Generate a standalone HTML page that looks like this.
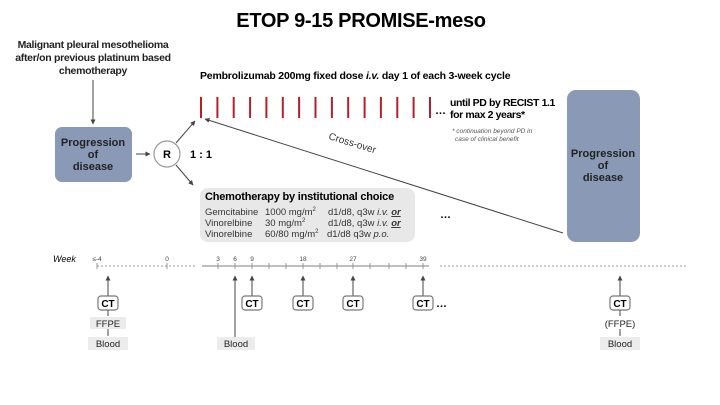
<!DOCTYPE html>
<html><head><style>
body{margin:0;background:#fff;}
svg{display:block;font-family:"Liberation Sans",Arial,sans-serif;}
</style></head><body>
<svg width="720" height="405" viewBox="0 0 720 405" xmlns="http://www.w3.org/2000/svg">
<defs>
<marker id="a" viewBox="0 0 10 10" refX="9" refY="5" markerWidth="5" markerHeight="5" orient="auto"><path d="M0,0 L10,5 L0,10 z" fill="#444"/></marker>
</defs>
<text x="361" y="27" text-anchor="middle" font-size="20" font-weight="bold" letter-spacing="-0.3">ETOP 9-15 PROMISE-meso</text>
<g font-size="10.5" font-weight="bold" text-anchor="middle" fill="#222" letter-spacing="-0.3">
<text x="93" y="48">Malignant pleural mesothelioma</text>
<text x="93" y="61">after/on previous platinum based</text>
<text x="93" y="74">chemotherapy</text>
</g>
<line x1="93" y1="80" x2="93" y2="124" stroke="#444" stroke-width="1" marker-end="url(#a)"/>
<rect x="55" y="127" width="77" height="55" rx="7" fill="#8a99b6"/>
<g font-size="11" font-weight="bold" text-anchor="middle" fill="#222">
<text x="93" y="146">Progression</text><text x="93" y="158">of</text><text x="93" y="170">disease</text>
</g>
<line x1="136" y1="154" x2="150" y2="154" stroke="#444" marker-end="url(#a)"/>
<circle cx="167" cy="154" r="13" fill="#fff" stroke="#999" stroke-width="1.2"/>
<text x="167" y="158" text-anchor="middle" font-size="11" font-weight="bold">R</text>
<text x="190" y="158" font-size="11" font-weight="bold">1 : 1</text>
<line x1="176" y1="143" x2="195" y2="121" stroke="#444" marker-end="url(#a)"/>
<line x1="176" y1="165" x2="193" y2="185" stroke="#444" marker-end="url(#a)"/>
<text x="200" y="79" font-size="10.5" font-weight="bold" letter-spacing="-0.2">Pembrolizumab 200mg fixed dose <tspan font-style="italic">i.v.</tspan> day 1 of each 3-week cycle</text>
<g stroke="#b3202c" stroke-width="2">
<line x1="201" y1="97" x2="201" y2="118"/><line x1="217.4" y1="97" x2="217.4" y2="118"/><line x1="233.7" y1="97" x2="233.7" y2="118"/><line x1="250.1" y1="97" x2="250.1" y2="118"/><line x1="266.4" y1="97" x2="266.4" y2="118"/><line x1="282.8" y1="97" x2="282.8" y2="118"/><line x1="299.1" y1="97" x2="299.1" y2="118"/><line x1="315.5" y1="97" x2="315.5" y2="118"/><line x1="331.9" y1="97" x2="331.9" y2="118"/><line x1="348.2" y1="97" x2="348.2" y2="118"/><line x1="364.6" y1="97" x2="364.6" y2="118"/><line x1="380.9" y1="97" x2="380.9" y2="118"/><line x1="397.3" y1="97" x2="397.3" y2="118"/><line x1="413.6" y1="97" x2="413.6" y2="118"/><line x1="430" y1="97" x2="430" y2="118"/>
</g>
<text x="435" y="114" font-size="11" font-weight="bold">…</text>
<text x="450" y="106" font-size="10.5" font-weight="bold" letter-spacing="-0.4">until PD by RECIST 1.1</text>
<text x="450" y="118" font-size="10.5" font-weight="bold" letter-spacing="-0.4">for max 2 years*</text>
<text x="452" y="133" font-size="6.5" font-style="italic" fill="#555">* continuation beyond PD in</text>
<text x="455" y="141" font-size="6.5" font-style="italic" fill="#555">case of clinical benefit</text>
<rect x="567" y="90" width="73" height="152" rx="9" fill="#8a99b6"/>
<g font-size="11" font-weight="bold" text-anchor="middle" fill="#222">
<text x="603" y="157">Progression</text><text x="603" y="169">of</text><text x="603" y="181">disease</text>
</g>
<line x1="563" y1="233" x2="205" y2="119" stroke="#444" marker-end="url(#a)"/>
<text x="328" y="139" font-size="10" transform="rotate(17 328 139)" fill="#333">Cross-over</text>
<rect x="200" y="188" width="215" height="54" rx="8" fill="#e8e8e8"/>
<text x="205" y="200" font-size="11" font-weight="bold" letter-spacing="-0.2">Chemotherapy by institutional choice</text>
<g font-size="9.5" fill="#333">
<text x="205" y="215">Gemcitabine</text><text x="265" y="215">1000 mg/m<tspan font-size="6" dy="-4">2</tspan></text><text x="328" y="215">d1/d8, q3w <tspan font-style="italic">i.v.</tspan> <tspan font-weight="bold" font-style="italic" text-decoration="underline">or</tspan></text>
<text x="205" y="226">Vinorelbine</text><text x="265" y="226">30 mg/m<tspan font-size="6" dy="-4">2</tspan></text><text x="328" y="226">d1/d8, q3w <tspan font-style="italic">i.v.</tspan> <tspan font-weight="bold" font-style="italic" text-decoration="underline">or</tspan></text>
<text x="205" y="237">Vinorelbine</text><text x="265" y="237">60/80 mg/m<tspan font-size="6" dy="-4">2</tspan></text><text x="327" y="237">d1/d8 q3w <tspan font-style="italic">p.o.</tspan></text>
</g>
<text x="440" y="218" font-size="11" font-weight="bold">…</text>
<text x="53" y="262" font-size="9" font-style="italic">Week</text>
<g font-size="6.5" fill="#444" text-anchor="middle">
<text x="97" y="261">≤-4</text><text x="167" y="261">0</text><text x="218" y="261">3</text><text x="235" y="261">6</text><text x="252" y="261">9</text><text x="303" y="261">18</text><text x="353" y="261">27</text><text x="423" y="261">39</text>
</g>
<line x1="97" y1="266" x2="195" y2="266" stroke="#999" stroke-dasharray="2,2"/>
<line x1="202" y1="266" x2="429" y2="266" stroke="#999" stroke-width="1.2"/>
<line x1="440" y1="266" x2="686" y2="266" stroke="#999" stroke-dasharray="2,2"/>
<g stroke="#999">
<line x1="97" y1="263" x2="97" y2="269"/><line x1="167" y1="263" x2="167" y2="269"/>
<line x1="218" y1="263" x2="218" y2="269"/><line x1="235" y1="263" x2="235" y2="269"/><line x1="252" y1="263" x2="252" y2="269"/><line x1="269" y1="263" x2="269" y2="269"/><line x1="286" y1="263" x2="286" y2="269"/><line x1="303" y1="263" x2="303" y2="269"/><line x1="320" y1="263" x2="320" y2="269"/><line x1="337" y1="263" x2="337" y2="269"/><line x1="353" y1="263" x2="353" y2="269"/><line x1="370" y1="263" x2="370" y2="269"/><line x1="389" y1="263" x2="389" y2="269"/><line x1="406" y1="263" x2="406" y2="269"/><line x1="423" y1="263" x2="423" y2="269"/>
</g>
<g stroke="#444" marker-end="url(#a)">
<line x1="108" y1="296" x2="108" y2="276"/><line x1="252" y1="296" x2="252" y2="276"/><line x1="303" y1="296" x2="303" y2="276"/><line x1="353" y1="296" x2="353" y2="276"/><line x1="423" y1="296" x2="423" y2="276"/><line x1="620" y1="296" x2="620" y2="276"/>
<line x1="235" y1="337" x2="235" y2="276"/>
</g>
<g stroke="#444"><line x1="108" y1="310" x2="108" y2="316"/><line x1="108" y1="329" x2="108" y2="336"/><line x1="620" y1="310" x2="620" y2="316"/><line x1="620" y1="329" x2="620" y2="336"/></g>
<g fill="#fff" stroke="#777" stroke-width="1.2">
<rect x="98" y="296" width="20" height="14" rx="3"/><rect x="242" y="296" width="20" height="14" rx="3"/><rect x="293" y="296" width="20" height="14" rx="3"/><rect x="343" y="296" width="20" height="14" rx="3"/><rect x="413" y="296" width="20" height="14" rx="3"/><rect x="610" y="296" width="20" height="14" rx="3"/>
</g>
<g font-size="10" font-weight="bold" text-anchor="middle">
<text x="108" y="307">CT</text><text x="252" y="307">CT</text><text x="303" y="307">CT</text><text x="353" y="307">CT</text><text x="423" y="307">CT</text><text x="620" y="307">CT</text>
</g>
<text x="436" y="307" font-size="11" font-weight="bold">…</text>
<g fill="#ececec">
<rect x="90" y="317" width="36" height="12"/><rect x="88" y="337" width="40" height="13"/><rect x="217" y="337" width="38" height="13"/><rect x="600" y="337" width="40" height="13"/>
</g>
<g font-size="9.5" text-anchor="middle" fill="#222">
<text x="108" y="327">FFPE</text><text x="108" y="347">Blood</text><text x="236" y="347">Blood</text><text x="620" y="327">(FFPE)</text><text x="620" y="347">Blood</text>
</g>
</svg>
</body></html>
